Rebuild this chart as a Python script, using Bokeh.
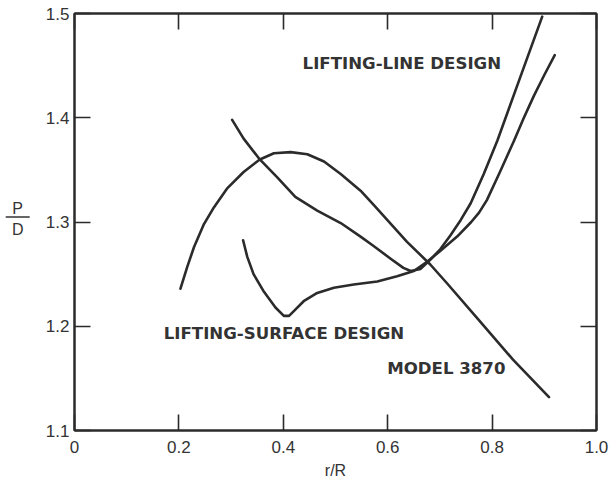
from bokeh.plotting import figure
from bokeh.models import FixedTicker, LinearAxis, Label, Range1d
from bokeh.layouts import row
from bokeh.core.properties import value
from bokeh.embed import file_html
from bokeh.resources import INLINE

# Pitch-diameter ratio P/D along the blade radius r/R
model_r = [0.203, 0.216, 0.229, 0.248, 0.267, 0.292, 0.324, 0.355, 0.382, 0.414,
           0.446, 0.478, 0.510, 0.548, 0.574, 0.637, 0.682, 0.714, 0.778, 0.840, 0.909]
model_pd = [1.236, 1.257, 1.276, 1.298, 1.314, 1.332, 1.348, 1.360, 1.366, 1.367,
            1.365, 1.358, 1.346, 1.330, 1.316, 1.281, 1.259, 1.241, 1.204, 1.168, 1.132]

line_r = [0.302, 0.324, 0.355, 0.388, 0.423, 0.465, 0.510, 0.548, 0.573, 0.605,
          0.630, 0.644, 0.663, 0.682, 0.701, 0.720, 0.740, 0.759, 0.784, 0.810,
          0.854, 0.896]
line_pd = [1.398, 1.380, 1.360, 1.343, 1.324, 1.311, 1.299, 1.286, 1.277, 1.265,
           1.256, 1.253, 1.255, 1.264, 1.274, 1.287, 1.302, 1.318, 1.346, 1.378,
           1.439, 1.497]

surface_r = [0.323, 0.331, 0.343, 0.363, 0.385, 0.401, 0.411, 0.423, 0.439, 0.465,
             0.497, 0.535, 0.580, 0.618, 0.650, 0.676, 0.700, 0.733, 0.760, 0.775,
             0.790, 0.815, 0.842, 0.860, 0.880, 0.900, 0.920]
surface_pd = [1.2825, 1.2665, 1.250, 1.233, 1.218, 1.210, 1.210, 1.216, 1.224, 1.232,
              1.237, 1.240, 1.243, 1.248, 1.253, 1.262, 1.272, 1.286, 1.300, 1.309,
              1.321, 1.348, 1.378, 1.399, 1.421, 1.441, 1.460]

x_ticks = [0, 0.2, 0.4, 0.6, 0.8, 1.0]
x_tick_labels = ["0", "0.2", "0.4", "0.6", "0.8", "1.0"]
y_ticks = [1.1, 1.2, 1.3, 1.4, 1.5]
y_tick_labels = ["1.1", "1.2", "1.3", "1.4", "1.5"]

INK = "#2b2b2b"
TEXT = "#333333"
FONT = "Liberation Sans"
LABEL_FONT = "DejaVu Sans"

TOP, BOTTOM = 13, 54

p = figure(width=576, height=484, output_backend="svg", toolbar_location=None,
           x_range=Range1d(0, 1.0), y_range=Range1d(1.1, 1.5),
           min_border_left=34, min_border_right=20, min_border_top=TOP,
           min_border_bottom=BOTTOM, x_axis_location=None, y_axis_location=None)
p.grid.visible = False
p.background_fill_color = "white"
p.border_fill_color = "white"
p.outline_line_color = INK
p.outline_line_width = 2


def style_axis(ax, ticks, labels, show_labels):
    ax.ticker = FixedTicker(ticks=ticks)
    ax.major_label_overrides = {t: s for t, s in zip(ticks, labels)}
    ax.major_tick_in = 16
    ax.major_tick_out = 0
    ax.minor_tick_line_color = None
    ax.major_tick_line_color = INK
    ax.major_tick_line_width = 1.6
    ax.axis_line_color = INK
    ax.axis_line_width = 2
    ax.major_label_text_font = FONT
    ax.major_label_text_font_size = "17px"
    ax.major_label_text_color = TEXT
    if not show_labels:
        ax.major_label_text_color = None


bottom = LinearAxis()
style_axis(bottom, x_ticks, x_tick_labels, True)
bottom.major_label_standoff = 10
bottom.axis_label = "r/R"
bottom.axis_label_text_font = FONT
bottom.axis_label_text_font_style = "normal"
bottom.axis_label_text_font_size = "16px"
bottom.axis_label_text_color = TEXT
bottom.axis_label_standoff = 6
p.add_layout(bottom, "below")

left = LinearAxis()
style_axis(left, y_ticks, y_tick_labels, True)
left.major_label_standoff = 5
p.add_layout(left, "left")

top = LinearAxis()
style_axis(top, x_ticks, x_tick_labels, False)
p.add_layout(top, "above")

right = LinearAxis()
style_axis(right, y_ticks, y_tick_labels, False)
p.add_layout(right, "right")

for xs, ys in [(model_r, model_pd), (line_r, line_pd), (surface_r, surface_pd)]:
    p.line(xs, ys, line_color=INK, line_width=2.6, line_join="round", line_cap="round")

# Curve annotations
for txt, x, y in [("LIFTING-LINE DESIGN", 0.437, 1.452),
                  ("LIFTING-SURFACE DESIGN", 0.171, 1.193),
                  ("MODEL 3870", 0.599, 1.159)]:
    p.add_layout(Label(x=x, y=y, text=txt, text_font=LABEL_FONT, text_font_style="bold",
                       text_font_size="16.6px", text_color=TEXT,
                       text_align="left", text_baseline="middle"))

# Stacked y-axis title P over D, in a narrow strip sharing the vertical scale
title_fig = figure(width=40, height=484, output_backend="svg", toolbar_location=None,
                   x_range=Range1d(0, 1), y_range=p.y_range,
                   min_border_left=0, min_border_right=0, min_border_top=TOP,
                   min_border_bottom=BOTTOM, x_axis_location=None, y_axis_location=None)
title_fig.grid.visible = False
title_fig.outline_line_color = None
title_fig.text(x=[0.43, 0.43], y=[1.3132, 1.2929], text=["P", "D"],
               text_font=value(FONT), text_font_size="16px", text_color=TEXT,
               text_align="center", text_baseline="middle")
title_fig.segment(x0=[0.13], y0=[1.3049], x1=[0.73], y1=[1.3049],
                  line_color=TEXT, line_width=1.5)

layout = row(title_fig, p)
open("out.html", "w").write(file_html(layout, INLINE))
